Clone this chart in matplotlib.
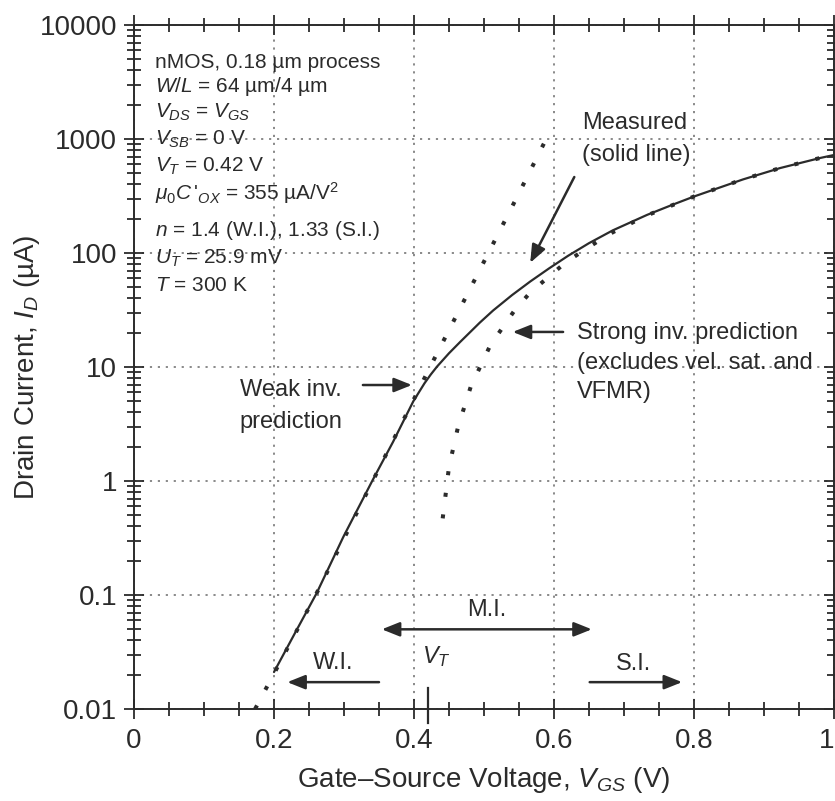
import matplotlib
matplotlib.use("Agg")
import matplotlib.pyplot as plt
from matplotlib.ticker import MultipleLocator, LogLocator, NullFormatter
from matplotlib.transforms import blended_transform_factory

plt.rcParams["font.family"] = ["Liberation Sans", "DejaVu Sans"]
plt.rcParams["mathtext.fontset"] = "custom"
plt.rcParams["mathtext.rm"] = "Liberation Sans"
plt.rcParams["mathtext.it"] = "Liberation Sans:italic"
plt.rcParams["mathtext.bf"] = "Liberation Sans:bold"
plt.rcParams["mathtext.sf"] = "Liberation Sans"

# Measured drain current (solid line), V_GS in volts, I_D in uA
vgs_measured = [0.200, 0.230, 0.261, 0.299, 0.341, 0.370, 0.399, 0.407, 0.415,
                0.424, 0.433, 0.450, 0.466, 0.494, 0.513, 0.540, 0.566, 0.593,
                0.620, 0.650, 0.684, 0.733, 0.770, 0.800, 0.835, 0.870, 0.923,
                0.980, 1.000]
id_measured = [0.0211, 0.0464, 0.104, 0.323, 1.02, 2.20, 5.0, 6.0, 7.2,
               8.6, 10.1, 13.2, 16.6, 24.5, 31.3, 42.7, 56.2, 73.3,
               94.4, 122, 158, 216, 266, 313, 372, 442, 556,
               681, 724]

# Weak-inversion model prediction
vgs_weak = [0.173, 0.201, 0.261, 0.341, 0.423, 0.546, 0.591]
id_weak = [0.010, 0.021, 0.104, 1.00, 10.0, 300, 1062]

# Strong-inversion model prediction (no velocity saturation / VFMR)
vgs_strong = [0.441, 0.450, 0.463, 0.481, 0.509, 0.544, 0.566, 0.594, 0.616,
              0.641, 0.663, 0.684, 0.733, 0.800, 0.870, 0.923, 0.980, 1.000]
id_strong = [0.47, 1.33, 3.0, 6.7, 15.5, 31.6, 45, 63, 82,
             104, 127, 152, 214, 313, 442, 556, 681, 724]

x_ticks = [0, 0.2, 0.4, 0.6, 0.8, 1.0]
x_tick_labels = ["0", "0.2", "0.4", "0.6", "0.8", "1"]
y_ticks = [0.01, 0.1, 1, 10, 100, 1000, 10000]
y_tick_labels = ["0.01", "0.1", "1", "10", "100", "1000", "10000"]

vt = 0.42

ink = "#2b2b2b"

fig = plt.figure(figsize=(8.35, 8.01), dpi=100)
ax = fig.add_axes([134 / 835, 1 - 709 / 801, 700 / 835, 684 / 801])

ax.set_xscale("linear")
ax.set_yscale("log")
ax.set_xlim(0, 1)
ax.set_ylim(0.01, 10000)

ax.set_xticks(x_ticks, x_tick_labels)
ax.set_yticks(y_ticks, y_tick_labels)
ax.xaxis.set_minor_locator(MultipleLocator(0.05))
ax.yaxis.set_minor_locator(LogLocator(base=10, subs=range(2, 10), numticks=20))
ax.yaxis.set_minor_formatter(NullFormatter())

ax.tick_params(which="both", direction="inout", top=True, right=True,
               color=ink, width=1.3, labelcolor=ink)
ax.tick_params(which="major", length=14, labelsize=20)
ax.tick_params(axis="x", which="major", pad=6.5)
ax.tick_params(axis="y", which="major", pad=5)
ax.tick_params(which="minor", length=10)
for s in ax.spines.values():
    s.set_linewidth(1.4)
    s.set_color(ink)
# keep the last x label inside the figure edge
ax.get_xticklabels()[-1].set_horizontalalignment("right")

ax.grid(which="major", linestyle=(0, (1.2, 3.2)), color="#808080", lw=1.3)
ax.set_axisbelow(True)

# curves
ax.plot(vgs_measured, id_measured, color=ink, lw=1.6, solid_capstyle="round",
        solid_joinstyle="round")
ax.plot(vgs_weak, id_weak, color=ink, lw=2.9, linestyle=(0, (1.0, 4.4)))
ax.plot(vgs_strong, id_strong, color=ink, lw=2.9, linestyle=(0, (1.0, 4.4)))

# threshold voltage marker on the x axis
bt = blended_transform_factory(ax.transData, ax.transAxes)
ax.plot([vt, vt], [-0.021, 0.031], transform=bt, color=ink, lw=1.6,
        clip_on=False)

arrow_kw = dict(arrowstyle="-|>,head_length=0.6,head_width=0.24",
                color=ink, lw=1.8, shrinkA=0, shrinkB=0, mutation_scale=18)

# region arrows
ax.annotate("", xy=(0.219, 0.0172), xytext=(0.350, 0.0172), arrowprops=arrow_kw)
ax.annotate("", xy=(0.783, 0.0172), xytext=(0.651, 0.0172), arrowprops=arrow_kw)
ax.annotate("", xy=(0.654, 0.050), xytext=(0.354, 0.050),
            arrowprops=dict(arrow_kw, arrowstyle="<|-|>,head_length=0.6,head_width=0.24"))

lab_fs = 17
ax.text(0.284, 0.0255, "W.I.", fontsize=lab_fs, color=ink, ha="center", va="center")
ax.text(0.714, 0.0248, "S.I.", fontsize=lab_fs, color=ink, ha="center", va="center")
ax.text(0.504, 0.074, "M.I.", fontsize=lab_fs, color=ink, ha="center", va="center")
ax.text(0.432, 0.029, "$V_T$", fontsize=lab_fs, color=ink, ha="center", va="center")

# curve call-outs
ax.annotate("", xy=(0.566, 82), xytext=(0.629, 464), arrowprops=arrow_kw)
ax.text(0.640, 1380, "Measured", fontsize=lab_fs, color=ink, ha="left", va="center")
ax.text(0.640, 725, "(solid line)", fontsize=lab_fs, color=ink, ha="left", va="center")

ax.annotate("", xy=(0.541, 20.3), xytext=(0.613, 20.3), arrowprops=arrow_kw)
ax.text(0.633, 19.9, "Strong inv. prediction", fontsize=lab_fs, color=ink,
        ha="left", va="center")
ax.text(0.633, 10.8, "(excludes vel. sat. and", fontsize=lab_fs, color=ink,
        ha="left", va="center")
ax.text(0.633, 6.04, "VFMR)", fontsize=lab_fs, color=ink, ha="left", va="center")

ax.annotate("", xy=(0.397, 6.95), xytext=(0.327, 6.95), arrowprops=arrow_kw)
ax.text(0.151, 6.3, "Weak inv.", fontsize=lab_fs, color=ink, ha="left", va="center")
ax.text(0.151, 3.3, "prediction", fontsize=lab_fs, color=ink, ha="left", va="center")

# device parameters
params = [
    "nMOS, 0.18 µm process",
    "$W/L$ = 64 µm/4 µm",
    "$V_{DS}$ = $V_{GS}$",
    "$V_{SB}$ = 0 V",
    "$V_T$ = 0.42 V",
    "$\\mu_0C\\,'_{OX}$ = 355 µA/V$^2$",
    "$n$ = 1.4 (W.I.), 1.33 (S.I.)",
    "$U_T$ = 25.9 mV",
    "$T$ = 300 K",
]
baselines = [68, 92, 118, 145, 172, 200, 236, 264, 291]
for line, yb in zip(params, baselines):
    fig.text(155 / 835, 1 - yb / 801, line, fontsize=15, color=ink,
             ha="left", va="baseline")

ax.set_xlabel("Gate\u2013Source Voltage, $V_{GS}$ (V)", fontsize=20, color=ink,
              labelpad=8)
ax.set_ylabel("Drain Current, $I_D$ (µA)", fontsize=20, color=ink)
ax.yaxis.set_label_coords(-0.131, 0.5)

fig.savefig("out.png", dpi=100)
